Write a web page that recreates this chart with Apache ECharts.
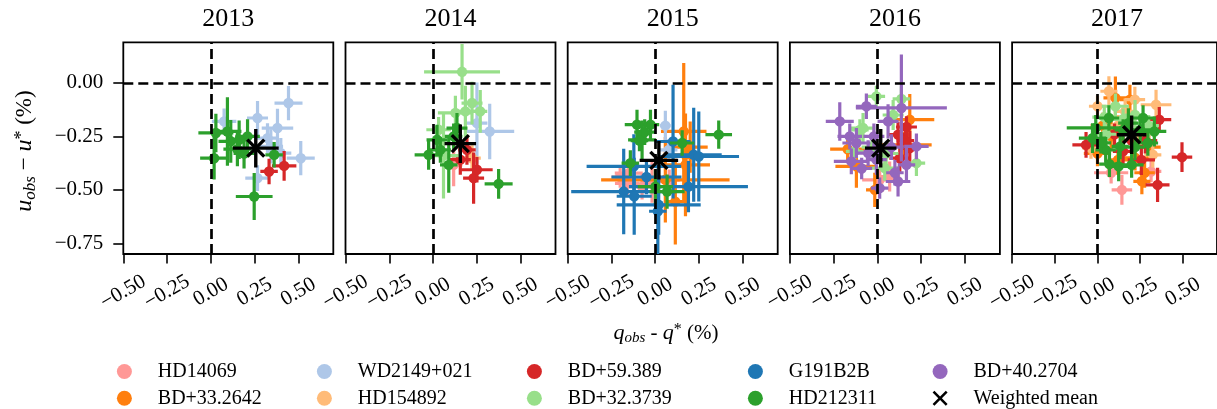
<!DOCTYPE html>
<html>
<head>
<meta charset="utf-8">
<script src="https://cdn.jsdelivr.net/npm/echarts@6/dist/echarts.min.js"></script>
<style>
  html, body { margin: 0; padding: 0; background: #fff; }
  #chart { width: 1217px; height: 409px; }
</style>
</head>
<body>
<div id="chart"></div>
<script>
var years = ['2013', '2014', '2015', '2016', '2017'];
var stars = ['HD14069', 'BD+33.2642', 'WD2149+021', 'HD154892', 'BD+59.389',
             'BD+32.3739', 'G191B2B', 'HD212311', 'BD+40.2704'];
var starColors = ['#ff9896', '#ff7f0e', '#aec7e8', '#ffbb78', '#d62728',
                  '#98df8a', '#1f77b4', '#2ca02c', '#9467bd'];
var xTicks = [-0.5, -0.25, 0, 0.25, 0.5];
var yTicks = [-0.75, -0.5, -0.25, 0];

// weighted mean per year
var meanX = [0.257, 0.156, 0.021, 0.019, 0.200];
var meanY = [-0.305, -0.284, -0.362, -0.305, -0.242];
var meanXErr = [0.131, 0.090, 0.110, 0.090, 0.086];
var meanYErr = [0.090, 0.090, 0.090, 0.090, 0.090];

// [star, q, u, q err, u err]
var obs2013 = [
  ['WD2149+021', 0.444, -0.094, 0.08, 0.08],
  ['WD2149+021', 0.076, -0.180, 0.07, 0.06],
  ['WD2149+021', 0.267, -0.164, 0.06, 0.08],
  ['WD2149+021', 0.381, -0.211, 0.09, 0.09],
  ['WD2149+021', 0.324, -0.258, 0.06, 0.07],
  ['WD2149+021', 0.400, -0.328, 0.06, 0.07],
  ['WD2149+021', 0.514, -0.352, 0.08, 0.08],
  ['WD2149+021', 0.267, -0.445, 0.07, 0.06],
  ['WD2149+021', 0.343, -0.297, 0.07, 0.08],
  ['BD+59.389', 0.333, -0.414, 0.05, 0.06],
  ['BD+59.389', 0.419, -0.388, 0.07, 0.07],
  ['HD212311', 0.029, -0.234, 0.10, 0.09],
  ['HD212311', 0.095, -0.227, 0.08, 0.16],
  ['HD212311', 0.019, -0.352, 0.08, 0.10],
  ['HD212311', 0.152, -0.310, 0.08, 0.08],
  ['HD212311', 0.210, -0.250, 0.07, 0.08],
  ['HD212311', 0.190, -0.330, 0.06, 0.07],
  ['HD212311', 0.248, -0.531, 0.105, 0.11],
  ['HD212311', 0.362, -0.336, 0.05, 0.06],
  ['HD212311', 0.114, -0.273, 0.07, 0.10],
  ['HD212311', 0.162, -0.266, 0.06, 0.09]
];
var obs2014 = [
  ['HD14069', 0.118, -0.383, 0.05, 0.10],
  ['HD154892', 0.223, -0.352, 0.05, 0.06],
  ['WD2149+021', 0.251, -0.188, 0.06, 0.19],
  ['WD2149+021', 0.324, -0.227, 0.14, 0.13],
  ['BD+59.389', 0.232, -0.445, 0.06, 0.12],
  ['BD+59.389', 0.156, -0.359, 0.06, 0.07],
  ['BD+59.389', 0.194, -0.313, 0.05, 0.07],
  ['BD+59.389', 0.251, -0.406, 0.09, 0.06],
  ['BD+32.3739', 0.166, 0.052, 0.217, 0.13],
  ['BD+32.3739', 0.223, -0.094, 0.06, 0.10],
  ['BD+32.3739', 0.128, -0.140, 0.10, 0.08],
  ['BD+32.3739', 0.185, -0.133, 0.08, 0.12],
  ['BD+32.3739', 0.032, -0.219, 0.07, 0.06],
  ['BD+32.3739', 0.270, -0.133, 0.04, 0.10],
  ['BD+32.3739', 0.060, -0.340, 0.10, 0.20],
  ['HD212311', 0.023, -0.266, 0.06, 0.07],
  ['HD212311', -0.025, -0.336, 0.08, 0.07],
  ['HD212311', 0.090, -0.383, 0.05, 0.13],
  ['HD212311', 0.118, -0.250, 0.05, 0.06],
  ['HD212311', 0.375, -0.472, 0.08, 0.07],
  ['HD212311', 0.042, -0.313, 0.06, 0.06],
  ['HD212311', 0.137, -0.211, 0.06, 0.07]
];
var obs2015 = [
  ['HD14069', -0.151, -0.422, 0.08, 0.05],
  ['HD14069', -0.075, -0.485, 0.08, 0.06],
  ['HD14069', -0.160, -0.470, 0.07, 0.06],
  ['HD14069', -0.018, -0.460, 0.06, 0.10],
  ['HD14069', 0.080, -0.455, 0.06, 0.05],
  ['HD14069', -0.200, -0.440, 0.05, 0.05],
  ['BD+33.2642', 0.163, -0.227, 0.13, 0.32],
  ['BD+33.2642', 0.173, -0.383, 0.14, 0.24],
  ['BD+33.2642', 0.058, -0.453, 0.367, 0.20],
  ['BD+33.2642', 0.115, -0.555, 0.06, 0.20],
  ['BD+33.2642', 0.173, -0.336, 0.07, 0.10],
  ['BD+33.2642', 0.200, -0.300, 0.10, 0.12],
  ['WD2149+021', 0.077, -0.313, 0.05, 0.05],
  ['WD2149+021', 0.058, -0.200, 0.03, 0.07],
  ['G191B2B', 0.102, -0.274, 0.10, 0.266],
  ['G191B2B', 0.220, -0.336, 0.16, 0.22],
  ['G191B2B', 0.249, -0.344, 0.23, 0.21],
  ['G191B2B', -0.180, -0.508, 0.30, 0.20],
  ['G191B2B', -0.122, -0.390, 0.27, 0.15],
  ['G191B2B', 0.020, -0.570, 0.24, 0.14],
  ['G191B2B', 0.190, -0.485, 0.34, 0.12],
  ['G191B2B', -0.120, -0.530, 0.10, 0.18],
  ['G191B2B', 0.015, -0.600, 0.05, 0.20],
  ['G191B2B', -0.050, -0.440, 0.20, 0.08],
  ['HD212311', 0.363, -0.242, 0.076, 0.066],
  ['HD212311', -0.104, -0.195, 0.07, 0.07],
  ['HD212311', -0.027, -0.195, 0.05, 0.07],
  ['HD212311', -0.075, -0.266, 0.08, 0.09],
  ['HD212311', -0.142, -0.375, 0.05, 0.06],
  ['HD212311', 0.154, -0.281, 0.07, 0.06],
  ['HD212311', 0.001, -0.485, 0.10, 0.08],
  ['HD212311', 0.068, -0.508, 0.10, 0.08],
  ['HD212311', -0.060, -0.230, 0.06, 0.06],
  ['HD212311', -0.090, -0.270, 0.05, 0.05]
];
var obs2016 = [
  ['HD14069', 0.013, -0.453, 0.10, 0.05],
  ['HD14069', 0.070, -0.438, 0.06, 0.07],
  ['BD+33.2642', 0.185, -0.172, 0.14, 0.12],
  ['BD+33.2642', -0.120, -0.390, 0.12, 0.10],
  ['BD+33.2642', 0.150, -0.290, 0.16, 0.06],
  ['BD+33.2642', -0.170, -0.310, 0.10, 0.05],
  ['BD+33.2642', -0.015, -0.500, 0.05, 0.08],
  ['BD+59.389', 0.166, -0.206, 0.06, 0.05],
  ['BD+59.389', 0.118, -0.242, 0.06, 0.06],
  ['BD+59.389', 0.185, -0.305, 0.05, 0.08],
  ['BD+59.389', 0.128, -0.352, 0.06, 0.07],
  ['BD+59.389', 0.160, -0.270, 0.05, 0.07],
  ['BD+32.3739', -0.006, -0.063, 0.05, 0.05],
  ['BD+32.3739', 0.137, -0.075, 0.05, 0.06],
  ['BD+32.3739', -0.082, -0.211, 0.07, 0.07],
  ['BD+32.3739', 0.223, -0.375, 0.05, 0.06],
  ['BD+32.3739', -0.130, -0.320, 0.05, 0.05],
  ['BD+32.3739', 0.042, -0.398, 0.08, 0.06],
  ['BD+32.3739', -0.030, -0.300, 0.06, 0.06],
  ['BD+32.3739', 0.050, -0.330, 0.07, 0.05],
  ['BD+32.3739', 0.090, -0.150, 0.06, 0.07],
  ['BD+32.3739', -0.100, -0.220, 0.05, 0.05],
  ['BD+40.2704', 0.137, -0.117, 0.26, 0.25],
  ['BD+40.2704', -0.215, -0.180, 0.08, 0.09],
  ['BD+40.2704', -0.063, -0.109, 0.06, 0.06],
  ['BD+40.2704', -0.158, -0.250, 0.07, 0.06],
  ['BD+40.2704', -0.120, -0.281, 0.08, 0.07],
  ['BD+40.2704', -0.149, -0.367, 0.10, 0.06],
  ['BD+40.2704', 0.061, -0.180, 0.06, 0.08],
  ['BD+40.2704', 0.223, -0.297, 0.07, 0.06],
  ['BD+40.2704', 0.166, -0.383, 0.05, 0.08],
  ['BD+40.2704', 0.013, -0.492, 0.05, 0.05],
  ['BD+40.2704', 0.118, -0.461, 0.07, 0.07],
  ['BD+40.2704', -0.006, -0.359, 0.06, 0.07],
  ['BD+40.2704', -0.053, -0.328, 0.07, 0.06],
  ['BD+40.2704', -0.020, -0.250, 0.06, 0.06],
  ['BD+40.2704', 0.080, -0.300, 0.07, 0.06],
  ['BD+40.2704', -0.090, -0.400, 0.06, 0.05],
  ['BD+40.2704', 0.100, -0.420, 0.05, 0.06]
];
var obs2017 = [
  ['HD14069', 0.143, -0.500, 0.06, 0.07],
  ['HD14069', 0.314, -0.414, 0.06, 0.05],
  ['HD14069', 0.080, -0.420, 0.10, 0.05],
  ['BD+33.2642', 0.190, -0.078, 0.06, 0.07],
  ['BD+33.2642', 0.105, -0.070, 0.07, 0.10],
  ['BD+33.2642', 0.000, -0.330, 0.08, 0.06],
  ['BD+33.2642', 0.276, -0.420, 0.06, 0.07],
  ['BD+33.2642', 0.080, -0.250, 0.06, 0.07],
  ['BD+33.2642', 0.220, -0.350, 0.08, 0.06],
  ['BD+33.2642', 0.260, -0.460, 0.05, 0.06],
  ['BD+33.2642', 0.030, -0.200, 0.07, 0.06],
  ['BD+33.2642', 0.120, -0.360, 0.06, 0.07],
  ['BD+33.2642', 0.300, -0.300, 0.07, 0.06],
  ['HD154892', 0.067, -0.039, 0.05, 0.07],
  ['HD154892', 0.000, -0.109, 0.05, 0.05],
  ['HD154892', 0.343, -0.102, 0.09, 0.07],
  ['HD154892', 0.219, -0.078, 0.06, 0.06],
  ['HD154892', -0.038, -0.305, 0.05, 0.05],
  ['HD154892', 0.324, -0.336, 0.05, 0.06],
  ['HD154892', 0.162, -0.133, 0.05, 0.06],
  ['HD154892', 0.120, -0.200, 0.05, 0.05],
  ['HD154892', 0.250, -0.250, 0.06, 0.05],
  ['BD+59.389', 0.495, -0.347, 0.06, 0.07],
  ['BD+59.389', 0.352, -0.477, 0.07, 0.08],
  ['BD+59.389', 0.362, -0.172, 0.07, 0.06],
  ['BD+59.389', 0.257, -0.360, 0.08, 0.07],
  ['BD+59.389', -0.067, -0.290, 0.08, 0.06],
  ['BD+59.389', 0.150, -0.320, 0.06, 0.07],
  ['BD+59.389', 0.200, -0.270, 0.06, 0.06],
  ['BD+59.389', 0.100, -0.240, 0.06, 0.05],
  ['BD+59.389', 0.280, -0.270, 0.07, 0.06],
  ['BD+32.3739', 0.105, -0.109, 0.08, 0.06],
  ['BD+32.3739', 0.040, -0.160, 0.07, 0.05],
  ['BD+32.3739', 0.220, -0.150, 0.06, 0.07],
  ['BD+32.3739', 0.300, -0.200, 0.06, 0.05],
  ['BD+32.3739', 0.150, -0.170, 0.07, 0.05],
  ['BD+32.3739', 0.050, -0.240, 0.06, 0.05],
  ['HD212311', -0.010, -0.210, 0.17, 0.06],
  ['HD212311', -0.029, -0.258, 0.08, 0.07],
  ['HD212311', 0.067, -0.164, 0.06, 0.06],
  ['HD212311', 0.267, -0.164, 0.07, 0.06],
  ['HD212311', 0.333, -0.227, 0.07, 0.07],
  ['HD212311', 0.181, -0.188, 0.06, 0.07],
  ['HD212311', 0.133, -0.297, 0.05, 0.06],
  ['HD212311', 0.048, -0.313, 0.06, 0.06],
  ['HD212311', 0.124, -0.390, 0.06, 0.07],
  ['HD212311', 0.200, -0.383, 0.07, 0.06],
  ['HD212311', 0.295, -0.281, 0.06, 0.06],
  ['HD212311', 0.070, -0.380, 0.06, 0.06],
  ['HD212311', 0.150, -0.220, 0.05, 0.05],
  ['HD212311', 0.220, -0.300, 0.06, 0.06],
  ['HD212311', 0.020, -0.280, 0.06, 0.05],
  ['HD212311', 0.250, -0.220, 0.06, 0.06]
];
var obsByYear = [obs2013, obs2014, obs2015, obs2016, obs2017];

var legendNames = ['HD14069', 'BD+33.2642', 'WD2149+021', 'HD154892', 'BD+59.389',
                   'BD+32.3739', 'G191B2B', 'HD212311', 'BD+40.2704', 'Weighted mean'];
var legendCenters = [123.3, 323.3, 533.3, 754.3, 939];
var legendRows = [371.5, 398.3];

var FONT = '"Liberation Serif", "DejaVu Serif", serif';
var PANEL_LEFT = 123.3, PANEL_STEP = 222.2, PANEL_W = 210;
var PANEL_TOP = 42.3, PANEL_H = 211.7;
var X_ICON = 'path://M1.2,0 L5,3.8 L8.8,0 L10,1.2 L6.2,5 L10,8.8 L8.8,10 L5,6.2 L1.2,10 L0,8.8 L3.8,5 L0,1.2 Z';

function fmt(v) {
  return v.toFixed(2).replace('-', '\u2212');
}

// error bar point: horizontal + vertical bar with dot
function renderPoint(params, api) {
  var x = api.value(0), y = api.value(1), xe = api.value(2), ye = api.value(3);
  var c = api.coord([x, y]);
  var l = api.coord([x - xe, y]), r = api.coord([x + xe, y]);
  var t = api.coord([x, y + ye]), b = api.coord([x, y - ye]);
  var color = api.visual('color');
  return {
    type: 'group',
    children: [
      { type: 'line', shape: { x1: l[0], y1: l[1], x2: r[0], y2: r[1] }, style: { stroke: color, lineWidth: 3.2 } },
      { type: 'line', shape: { x1: t[0], y1: t[1], x2: b[0], y2: b[1] }, style: { stroke: color, lineWidth: 3.2 } },
      { type: 'circle', shape: { cx: c[0], cy: c[1], r: 5.2 }, style: { fill: color } }
    ]
  };
}

// weighted mean: black error cross plus x marker
function renderMean(params, api) {
  var x = api.value(0), y = api.value(1), xe = api.value(2), ye = api.value(3);
  var c = api.coord([x, y]);
  var l = api.coord([x - xe, y]), r = api.coord([x + xe, y]);
  var t = api.coord([x, y + ye]), b = api.coord([x, y - ye]);
  var s = 8.5, w = 3.4;
  return {
    type: 'group',
    children: [
      { type: 'line', shape: { x1: l[0], y1: l[1], x2: r[0], y2: r[1] }, style: { stroke: '#000', lineWidth: w } },
      { type: 'line', shape: { x1: t[0], y1: t[1], x2: b[0], y2: b[1] }, style: { stroke: '#000', lineWidth: w } },
      { type: 'line', shape: { x1: c[0] - s, y1: c[1] - s, x2: c[0] + s, y2: c[1] + s }, style: { stroke: '#000', lineWidth: w } },
      { type: 'line', shape: { x1: c[0] - s, y1: c[1] + s, x2: c[0] + s, y2: c[1] - s }, style: { stroke: '#000', lineWidth: w } }
    ]
  };
}

var grids = [], xAxes = [], yAxes = [], series = [], graphics = [];

for (var k = 0; k < years.length; k++) {
  var left = PANEL_LEFT + k * PANEL_STEP;
  grids.push({
    left: left, top: PANEL_TOP, width: PANEL_W, height: PANEL_H,
    show: true, borderColor: '#000', borderWidth: 1.8, backgroundColor: 'transparent'
  });
  xAxes.push({
    type: 'value', gridIndex: k, min: -0.5, max: 0.7, interval: 0.25,
    axisLine: { show: false, onZero: false },
    splitLine: { show: false },
    axisTick: { show: true, inside: false, length: 9.5, customValues: xTicks, lineStyle: { color: '#000', width: 1.6 } },
    axisLabel: {
      show: true, customValues: xTicks, rotate: 30, align: 'center', verticalAlign: 'middle',
      margin: 38, color: '#000', fontFamily: FONT, fontSize: 21, formatter: fmt
    }
  });
  yAxes.push({
    type: 'value', gridIndex: k, min: -0.8, max: 0.19,
    axisLine: { show: false, onZero: false },
    splitLine: { show: false },
    axisTick: { show: k === 0, inside: false, length: 10, customValues: yTicks, lineStyle: { color: '#000', width: 1.6 } },
    axisLabel: {
      show: k === 0, customValues: yTicks, margin: 20,
      color: '#000', fontFamily: FONT, fontSize: 21, formatter: fmt
    }
  });

  // dashed zero lines
  series.push({
    type: 'line', xAxisIndex: k, yAxisIndex: k, data: [], z: 1, silent: true,
    markLine: {
      silent: true, symbol: 'none', animation: false,
      label: { show: false },
      lineStyle: { color: '#000', width: 2.7, type: [10, 5] },
      data: [{ xAxis: 0 }, { yAxis: 0 }]
    }
  });

  var obs = obsByYear[k];
  for (var s = 0; s < stars.length; s++) {
    var pts = obs.filter(function (p) { return p[0] === stars[s]; })
                 .map(function (p) { return [p[1], p[2], p[3], p[4]]; });
    if (!pts.length) continue;
    series.push({
      type: 'custom', name: stars[s], xAxisIndex: k, yAxisIndex: k, z: 2,
      clip: true, silent: true,
      itemStyle: { color: starColors[s] },
      encode: { x: 0, y: 1 },
      renderItem: renderPoint,
      data: pts
    });
  }

  series.push({
    type: 'custom', name: 'Weighted mean', xAxisIndex: k, yAxisIndex: k, z: 3,
    clip: true, silent: true,
    itemStyle: { color: '#000' },
    encode: { x: 0, y: 1 },
    renderItem: renderMean,
    data: [[meanX[k], meanY[k], meanXErr[k], meanYErr[k]]]
  });

  graphics.push({
    type: 'text', x: left + PANEL_W / 2, y: 19,
    style: { text: years[k], fill: '#000', fontFamily: FONT, fontSize: 26, align: 'center', verticalAlign: 'middle' }
  });
}

var richLabel = {
  i: { fontFamily: FONT, fontSize: 24, fontStyle: 'italic', color: '#000' },
  s: { fontFamily: FONT, fontSize: 17, fontStyle: 'italic', padding: [11, 0, 0, 0], color: '#000' },
  p: { fontFamily: FONT, fontSize: 18, padding: [0, 0, 6, 0], color: '#000' },
  n: { fontFamily: FONT, fontSize: 23, color: '#000' }
};
var richLabelX = {
  i: { fontFamily: FONT, fontSize: 22, fontStyle: 'italic', color: '#000' },
  s: { fontFamily: FONT, fontSize: 15, fontStyle: 'italic', padding: [10, 0, 0, 0], color: '#000' },
  p: { fontFamily: FONT, fontSize: 16, padding: [0, 0, 6, 0], color: '#000' },
  n: { fontFamily: FONT, fontSize: 21, color: '#000' }
};

graphics.push({
  type: 'text', x: 25, y: 151, rotation: Math.PI / 2,
  style: {
    text: '{i|u}{s|obs}{n| \u2212 }{i|u}{p|*}{n| (%)}',
    rich: richLabel, fill: '#000', align: 'center', verticalAlign: 'middle'
  }
});
graphics.push({
  type: 'text', x: 666, y: 333,
  style: {
    text: '{i|q}{s|obs}{n| - }{i|q}{p|*}{n| (%)}',
    rich: richLabelX, fill: '#000', align: 'center', verticalAlign: 'middle'
  }
});

// one legend per entry, laid out column by column like the original
var legends = legendNames.map(function (n, i) {
  return {
    orient: 'horizontal', padding: 0,
    left: legendCenters[Math.floor(i / 2)] - 6.4,
    top: legendRows[i % 2] - 10,
    itemWidth: 56.8, itemHeight: 15,
    selectedMode: false,
    textStyle: { fontFamily: FONT, fontSize: 20, color: '#000', lineHeight: 20 },
    data: [{ name: n, icon: n === 'Weighted mean' ? X_ICON : 'circle' }]
  };
});

var chart = echarts.init(document.getElementById('chart'));
chart.setOption({
  animation: false,
  backgroundColor: '#fff',
  grid: grids,
  xAxis: xAxes,
  yAxis: yAxes,
  legend: legends,
  graphic: graphics,
  series: series
});
</script>
</body>
</html>
